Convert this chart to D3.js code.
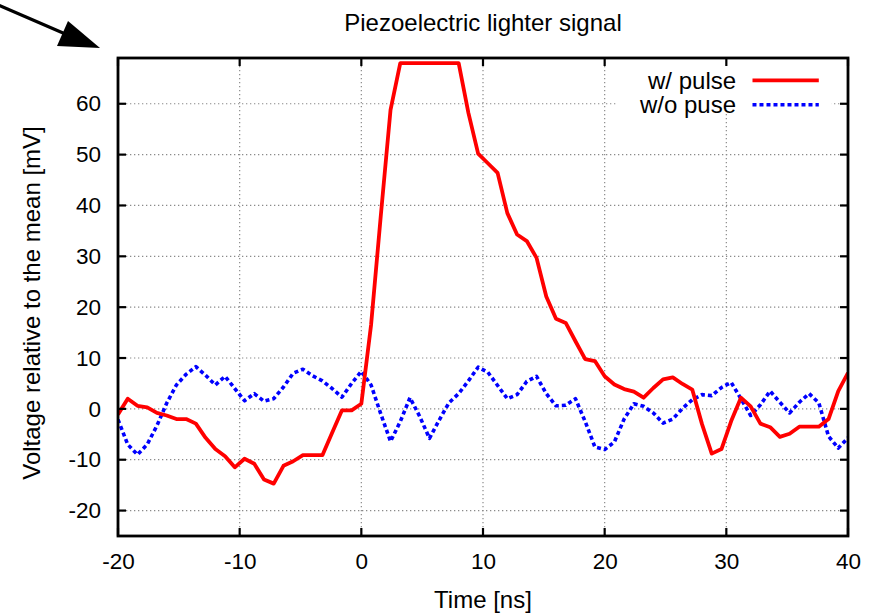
<!DOCTYPE html>
<html>
<head>
<meta charset="utf-8">
<script src="https://cdn.jsdelivr.net/npm/d3@7"></script>
<style>
  html, body { margin: 0; padding: 0; background: #fff; }
  svg { display: block; font-family: "Liberation Sans", Arial, Helvetica, sans-serif; }
</style>
</head>
<body>
<svg id="chart" width="872" height="613"></svg>
<script>
// Sample times [ns]
const times = [-20, -19.2, -18.4, -17.6, -16.8, -16, -15.2, -14.4, -13.6, -12.8,
  -12, -11.2, -10.4, -9.6, -8.8, -8, -7.2, -6.4, -5.6, -4.8,
  -4, -3.2, -2.4, -1.6, -0.8, 0, 0.8, 1.6, 2.4, 3.2,
  4, 4.8, 5.6, 6.4, 7.2, 8, 8.8, 9.6, 10.4, 11.2,
  12, 12.8, 13.6, 14.4, 15.2, 16, 16.8, 17.6, 18.4, 19.2,
  20, 20.8, 21.6, 22.4, 23.2, 24, 24.8, 25.6, 26.4, 27.2,
  28, 28.8, 29.6, 30.4, 31.2, 32, 32.8, 33.6, 34.4, 35.2,
  36, 36.8, 37.6, 38.4, 39.2, 40];

// Voltage relative to the mean [mV], with the pulse
const withPulse = [-1.1, 2.0, 0.6, 0.3, -0.8, -1.3, -2.0, -2.0, -2.9, -5.7,
  -7.9, -9.3, -11.5, -9.8, -10.8, -13.9, -14.7, -11.2, -10.3, -9.1,
  -9.1, -9.1, -4.7, -0.3, -0.3, 1.0, 16.5, 38.0, 58.8, 68,
  68, 68, 68, 68, 68, 68, 58.2, 50.2, 48.3, 46.4,
  38.5, 34.3, 33.0, 29.7, 22.1, 17.7, 16.9, 13.3, 9.8, 9.4,
  6.4, 4.8, 3.9, 3.4, 2.2, 4.1, 5.8, 6.2, 4.9, 3.8,
  -3.0, -8.8, -7.9, -2.4, 2.2, 0.5, -2.9, -3.6, -5.5, -4.9,
  -3.5, -3.5, -3.5, -2.0, 3.5, 7.1];

// Voltage relative to the mean [mV], without the pulse
const withoutPulse = [-2.1, -7.0, -9.0, -7.0, -3.3, 1.1, 4.7, 6.8, 8.3, 6.6,
  4.7, 6.4, 4.0, 1.6, 3.0, 1.5, 2.0, 4.3, 7.0, 7.8,
  6.5, 5.5, 4.0, 2.3, 5.0, 7.4, 4.7, -1.0, -6.4, -2.5,
  2.2, -1.5, -5.8, -2.2, 1.2, 3.0, 5.5, 8.2, 7.2, 4.6,
  2.0, 2.8, 5.4, 6.4, 3.0, 0.6, 0.7, 2.0, -2.5, -7.5,
  -8.0, -6.5, -2.0, 1.0, 0.5, -0.8, -2.8, -2.0, 0.1, 1.8,
  2.8, 2.6, 4.2, 5.2, 2.0, -1.3, 0.8, 3.5, 1.3, -0.8,
  1.3, 3.0, 1.2, -5.4, -7.7, -5.7];

const xTicks = [-20, -10, 0, 10, 20, 30, 40];
const yTicks = [-20, -10, 0, 10, 20, 30, 40, 50, 60];

const series = [
  { name: "w/ pulse", values: withPulse, color: "#ff0000", dash: null },
  { name: "w/o puse", values: withoutPulse, color: "#0000ff", dash: "4,3" }
];

const W = 872, H = 613;
const margin = { top: 58, right: 24, bottom: 77, left: 118 };
const iw = W - margin.left - margin.right;
const ih = H - margin.top - margin.bottom;

const svg = d3.select("#chart");
const g = svg.append("g").attr("transform", `translate(${margin.left},${margin.top})`);

const x = d3.scaleLinear().domain([-20, 40]).range([0, iw]);
const y = d3.scaleLinear().domain([-25, 69]).range([ih, 0]);

// Plain hyphen-minus for negative tick labels
const fmt = d => String(d);

// Dotted grid
const gridColor = "#8a8a8a";
g.append("g").selectAll("line.vg")
  .data(xTicks.filter(d => d > -20 && d < 40))
  .join("line")
  .attr("x1", d => x(d)).attr("x2", d => x(d))
  .attr("y1", 0).attr("y2", ih)
  .attr("stroke", gridColor).attr("stroke-width", 1.2)
  .attr("stroke-dasharray", "1.3,2.7");
g.append("g").selectAll("line.hg")
  .data(yTicks)
  .join("line")
  .attr("x1", 0).attr("x2", iw)
  .attr("y1", d => y(d)).attr("y2", d => y(d))
  .attr("stroke", gridColor).attr("stroke-width", 1.2)
  .attr("stroke-dasharray", "1.3,2.7");

// Tick labels via d3 axes (tick marks drawn separately, pointing inward)
const fontTick = "22.5px";
const xAxis = g.append("g")
  .attr("transform", `translate(0,${ih})`)
  .call(d3.axisBottom(x).tickValues(xTicks).tickSize(0).tickPadding(17).tickFormat(fmt));
xAxis.select(".domain").remove();
xAxis.selectAll("text").attr("font-size", fontTick).attr("fill", "#000")
  .attr("font-family", "Liberation Sans, Arial, sans-serif");

const yAxis = g.append("g")
  .call(d3.axisLeft(y).tickValues(yTicks).tickSize(0).tickPadding(17).tickFormat(fmt));
yAxis.select(".domain").remove();
yAxis.selectAll("text").attr("font-size", fontTick).attr("fill", "#000")
  .attr("font-family", "Liberation Sans, Arial, sans-serif");

// Data lines, clipped to the plot frame
svg.append("defs").append("clipPath").attr("id", "plotClip")
  .append("rect").attr("x", 0).attr("y", 0).attr("width", iw).attr("height", ih);

const line = d3.line().x((d, i) => x(times[i])).y(d => y(d));

// Legend box hides the grid behind it
const legend = g.append("g");
legend.append("rect")
  .attr("x", x(21.05)).attr("y", 1)
  .attr("width", x(38.65) - x(21.05)).attr("height", y(58.9) - 1)
  .attr("fill", "#fff");

const lines = g.append("g").attr("clip-path", "url(#plotClip)");
series.slice().reverse().forEach(s => {
  lines.append("path")
    .datum(s.values)
    .attr("d", line)
    .attr("fill", "none")
    .attr("stroke", s.color)
    .attr("stroke-width", s.dash ? 3.6 : 3.8)
    .attr("stroke-linejoin", "round")
    .attr("stroke-dasharray", s.dash);
});

series.forEach((s, i) => {
  const ly = y(64.6 - i * 4.8);
  legend.append("text")
    .attr("x", x(30.8)).attr("y", ly + 8.5)
    .attr("text-anchor", "end")
    .attr("font-size", "24px")
    .attr("fill", "#000")
    .text(s.name);
  legend.append("line")
    .attr("x1", x(32.15)).attr("x2", x(37.6))
    .attr("y1", ly).attr("y2", ly)
    .attr("stroke", s.color)
    .attr("stroke-width", s.dash ? 3.6 : 3.8)
    .attr("stroke-dasharray", s.dash);
});

// Inward tick marks on all four sides
const tk = 8;
const ticks = g.append("g").attr("stroke", "#000").attr("stroke-width", 2.2);
xTicks.forEach(d => {
  ticks.append("line").attr("x1", x(d)).attr("x2", x(d)).attr("y1", ih).attr("y2", ih - tk);
  ticks.append("line").attr("x1", x(d)).attr("x2", x(d)).attr("y1", 0).attr("y2", tk);
});
yTicks.forEach(d => {
  ticks.append("line").attr("x1", 0).attr("x2", tk).attr("y1", y(d)).attr("y2", y(d));
  ticks.append("line").attr("x1", iw).attr("x2", iw - tk).attr("y1", y(d)).attr("y2", y(d));
});

// Plot frame
g.append("rect")
  .attr("x", 0).attr("y", 0).attr("width", iw).attr("height", ih)
  .attr("fill", "none").attr("stroke", "#000").attr("stroke-width", 2.8);

// Title and axis labels
svg.append("text")
  .attr("x", margin.left + iw / 2).attr("y", 31)
  .attr("text-anchor", "middle").attr("font-size", "24px").attr("fill", "#000")
  .text("Piezoelectric lighter signal");

svg.append("text")
  .attr("x", margin.left + iw / 2).attr("y", 608)
  .attr("text-anchor", "middle").attr("font-size", "24px").attr("fill", "#000")
  .text("Time [ns]");

svg.append("text")
  .attr("transform", `translate(40,${margin.top + ih / 2 + 6}) rotate(-90)`)
  .attr("text-anchor", "middle").attr("font-size", "24px").attr("fill", "#000")
  .text("Voltage relative to the mean [mV]");

// Pointer arrow at the top-left corner of the frame
const tip = [margin.left - 18, margin.top - 10];
const arrow = svg.append("g");
arrow.append("line")
  .attr("x1", tip[0] - 104).attr("y1", tip[1] - 44)
  .attr("x2", tip[0] - 30).attr("y2", tip[1] - 12)
  .attr("stroke", "#000").attr("stroke-width", 3.2);
arrow.append("path")
  .attr("d", `M${tip[0]},${tip[1]} L${tip[0] - 32},${tip[1] - 27} L${tip[0] - 43},${tip[1] - 2} Z`)
  .attr("fill", "#000");
</script>
</body>
</html>
